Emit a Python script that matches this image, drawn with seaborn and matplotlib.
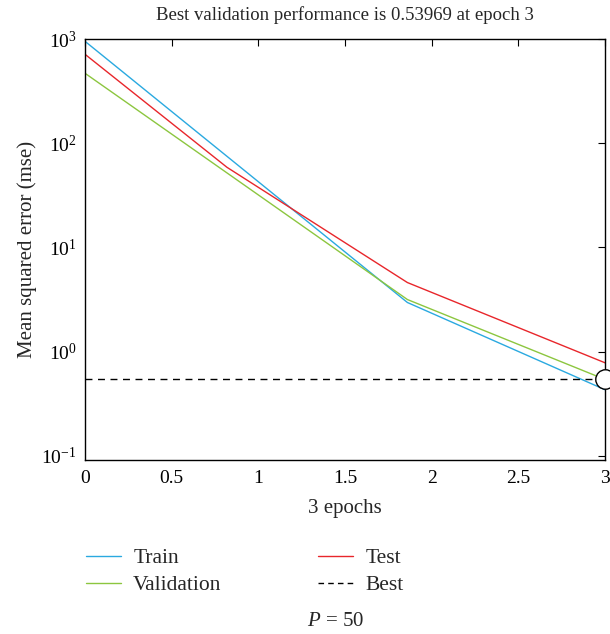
import matplotlib
matplotlib.use("Agg")
import matplotlib.pyplot as plt
import seaborn as sns
import pandas as pd
from matplotlib.lines import Line2D
from matplotlib.ticker import NullLocator, FixedLocator

# ---- data ----
train_epochs = [0, 1.86, 3]
train = [955, 2.96, 0.43]
validation_epochs = [0, 1.86, 3]
validation = [471, 3.16, 0.53969]
test_epochs = [0, 0.82, 1.86, 3]
test = [717, 58.7, 4.6, 0.78]
best_epoch = 3
best_value = 0.53969
x_ticks = [0, 0.5, 1, 1.5, 2, 2.5, 3]
x_tick_labels = ["0", "0.5", "1", "1.5", "2", "2.5", "3"]
y_ticks = [0.1, 1, 10, 100, 1000]

title = "Best validation performance is 0.53969 at epoch 3"
xlabel = "3 epochs"
ylabel = "Mean squared error (mse)"
legend_labels = ["Train", "Validation", "Test", "Best"]

colors = {"Train": "#2aa9e0", "Validation": "#8cc63f", "Test": "#e8262b"}

sns.set_style("white")
plt.rcParams['font.family'] = ['Liberation Serif', 'DejaVu Serif']
plt.rcParams['mathtext.fontset'] = 'custom'
plt.rcParams['mathtext.rm'] = 'Liberation Serif'
plt.rcParams['mathtext.it'] = 'Liberation Serif:italic'

df = pd.concat([
    pd.DataFrame({"epoch": train_epochs, "mse": train, "series": "Train"}),
    pd.DataFrame({"epoch": validation_epochs, "mse": validation, "series": "Validation"}),
    pd.DataFrame({"epoch": test_epochs, "mse": test, "series": "Test"}),
], ignore_index=True)

fig = plt.figure(figsize=(6.10, 6.34), dpi=100)
ax = fig.add_axes([0.139, 0.2744, 0.853, 0.664])

for name in ["Train", "Validation", "Test"]:
    sns.lineplot(data=df[df.series == name], x="epoch", y="mse", ax=ax,
                 color=colors[name], linewidth=1.0, legend=False, estimator=None)

ax.axhline(best_value, color="black", linestyle=(0, (5, 4)), linewidth=1.0)
ax.plot([best_epoch], [best_value], marker="o", markersize=14, markerfacecolor="white",
        markeredgecolor="black", markeredgewidth=1.0, clip_on=False, zorder=5)

ax.set_yscale("log")
ax.set_ylim(0.091, 1000)
ax.set_xlim(0, 3)
ax.yaxis.set_major_locator(FixedLocator(y_ticks))
ax.yaxis.set_minor_locator(NullLocator())
ax.set_xticks(x_ticks)
ax.set_xticklabels(x_tick_labels)

for s in ax.spines.values():
    s.set_color("black")
    s.set_linewidth(1.0)
ax.tick_params(direction="in", length=5, width=0.8, top=True, right=True,
               labelsize=14, colors="black", pad=6)
ax.tick_params(axis="x", pad=7)

ax.set_title(title, fontsize=13.5, pad=14)
ax.set_xlabel(xlabel, fontsize=15, labelpad=9)
ax.set_ylabel(ylabel, fontsize=15, labelpad=3)

handles = [Line2D([], [], color=colors["Train"], lw=1.0),
           Line2D([], [], color=colors["Validation"], lw=1.0),
           Line2D([], [], color=colors["Test"], lw=1.0),
           Line2D([], [], color="black", lw=1.0, linestyle=(0, (4, 3)))]
fig.legend(handles, legend_labels, loc="upper left", bbox_to_anchor=(86 / 610, 1 - 548 / 634),
           bbox_transform=fig.transFigure, ncol=2, frameon=False, fontsize=15.5,
           handlelength=1.63, handletextpad=0.56, columnspacing=4.5, labelspacing=0.33,
           borderpad=0, borderaxespad=0)

fig.text(336 / 610, 1 - 626 / 634, r"$P$ = 50", ha="center", va="baseline", fontsize=15)

fig.savefig("out.png", dpi=100)
